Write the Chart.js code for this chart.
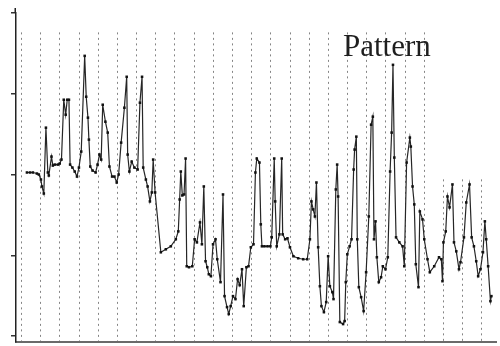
<!DOCTYPE html>
<html>
<head>
<meta charset="utf-8">
<style>
  html, body { margin: 0; padding: 0; background: #fff; }
  #wrap { width: 500px; height: 346px; }
</style>
<script src="https://cdn.jsdelivr.net/npm/chart.js@4/dist/chart.umd.min.js"></script>
</head>
<body>
<div id="wrap"><canvas id="c" width="500" height="346"></canvas></div>
<script>
// Sample positions (time units, one grid column = 10 units)
const sampleX = [
  3.1, 4.7, 6.2, 8.3, 9.3, 10.4, 10.9, 11.9, 13.0, 14.0,
  14.5, 15.9, 16.6, 17.6, 19.2, 20.2, 21.1, 22.3, 23.3, 24.1,
  25.0, 25.6, 26.8, 28.0, 29.2, 30.2, 31.4, 33.2, 34.0, 34.9,
  35.4, 36.1, 37.3, 38.9, 39.9, 40.9, 41.8, 42.6, 44.0, 45.2,
  46.1, 47.5, 48.7, 49.9, 50.9, 52.2, 53.9, 55.1, 55.6, 56.5,
  57.7, 59.1, 60.8, 62.0, 63.1, 63.7, 65.1, 66.0, 67.2, 68.2,
  68.9, 69.9, 72.9, 75.5, 78.1, 80.7, 82.0, 82.7, 83.3, 84.1,
  85.0, 85.8, 86.4, 87.6, 89.3, 90.5, 91.7, 93.3, 94.3, 95.3,
  96.2, 97.1, 97.9, 99.0, 100.1, 101.4, 102.3, 104.0, 105.3, 106.1,
  107.4, 108.3, 109.3, 110.5, 111.8, 112.9, 114.0, 115.2, 116.1, 117.5,
  118.6, 119.8, 121.2, 122.2, 122.9, 124.3, 125.0, 125.6, 126.9, 128.5,
  130.0, 130.7, 132.0, 132.5, 133.3, 134.7, 135.9, 136.4, 137.7, 138.9,
  140.2, 142.0, 144.5, 147.1, 149.2, 150.6, 151.4, 152.3, 153.2, 154.0,
  154.9, 155.8, 156.6, 157.9, 159.1, 160.1, 161.0, 162.3, 162.9, 164.1,
  164.8, 165.3, 166.2, 167.9, 168.7, 169.3, 170.1, 171.3, 172.3, 173.4,
  173.9, 174.8, 175.3, 176.1, 177.3, 178.6, 179.9, 181.3, 182.5, 183.4,
  184.0, 184.8, 185.5, 186.5, 187.7, 188.6, 190.0, 191.2, 192.4, 193.2,
  193.9, 194.6, 195.5, 197.2, 198.9, 199.8, 201.0, 202.7, 203.2, 204.1,
  205.0, 205.8, 207.2, 207.9, 209.3, 210.2, 211.9, 213.1, 215.4, 217.9,
  219.1, 219.7, 220.2, 221.4, 222.3, 223.4, 224.9, 225.7, 226.9, 228.3,
  229.1, 230.9, 232.1, 233.8, 234.9, 236.1, 237.3, 238.3, 239.5, 240.8,
  241.8, 242.5, 243.5, 244.7, 245.2
];

// Pattern level at each sample
const patternLevel = [
  202.5, 202.5, 202.5, 201.2, 200.0, 193.8, 185.2, 176.5, 258.0, 202.5,
  198.8, 222.2, 211.1, 212.3, 212.3, 213.6, 218.5, 292.6, 274.1, 292.6,
  292.6, 212.3, 208.6, 203.7, 197.5, 208.6, 228.4, 346.9, 296.3, 270.4,
  243.2, 209.9, 204.9, 202.5, 212.3, 224.7, 218.5, 286.4, 265.4, 251.9,
  209.9, 197.5, 197.5, 190.1, 200.0, 239.5, 282.7, 321.0, 224.7, 203.7,
  216.0, 208.6, 206.2, 288.9, 321.0, 208.6, 193.8, 185.2, 166.7, 177.8,
  218.5, 177.8, 103.7, 107.4, 111.1, 119.8, 129.6, 169.1, 203.7, 174.1,
  175.3, 219.8, 86.4, 85.2, 86.4, 119.8, 116.0, 140.7, 113.6, 185.2,
  92.6, 85.2, 76.5, 74.1, 113.6, 119.8, 95.1, 66.7, 175.3, 49.4,
  35.8, 27.2, 37.0, 49.4, 45.7, 70.4, 63.0, 82.7, 37.0, 85.2,
  86.4, 109.9, 113.6, 202.5, 219.8, 214.8, 138.3, 111.1, 111.1, 111.1,
  111.1, 122.2, 219.8, 166.7, 111.1, 125.9, 219.8, 125.9, 119.8, 121.0,
  109.9, 98.8, 96.3, 95.1, 95.1, 119.8, 166.7, 156.8, 148.1, 190.1,
  109.9, 61.7, 37.0, 29.6, 42.0, 98.8, 61.7, 54.3, 45.7, 181.5,
  212.3, 172.8, 17.3, 14.8, 18.5, 66.7, 101.2, 111.1, 119.8, 206.2,
  230.9, 246.9, 119.8, 60.5, 48.1, 30.9, 79.0, 148.1, 261.7, 271.6,
  119.8, 142.0, 97.5, 66.7, 72.8, 86.4, 82.7, 97.5, 203.7, 251.9,
  335.8, 221.0, 122.2, 116.0, 111.1, 86.4, 214.8, 245.7, 234.6, 185.2,
  163.0, 88.9, 60.5, 154.3, 144.4, 119.8, 95.1, 79.0, 86.4, 97.5,
  95.1, 67.9, 116.0, 129.6, 172.8, 159.3, 187.7, 116.0, 104.9, 82.7,
  91.4, 122.2, 165.4, 187.7, 122.2, 111.1, 92.6, 74.1, 82.7, 103.7,
  142.0, 119.8, 86.4, 43.2, 49.4
];

// Axis tick values and grid columns
const yTickValues = [0, 100, 200, 300, 400];
const gridColumns = [0, 10, 20, 30, 40, 50, 60, 70, 80, 90, 100, 110, 120,
                     130, 140, 150, 160, 170, 180, 190, 200, 210, 220, 230, 240];
const gridTopLevel = 376;       // where the dotted columns begin
const gridTopLevelRight = 194;  // shorter columns at the right edge
const tallColumnLimit = 210;    // last column that runs to the top

const points = sampleX.map((x, i) => ({ x: x, y: patternLevel[i] }));

// Dotted vertical guides drawn behind the series
const dottedColumns = {
  id: 'dottedColumns',
  beforeDatasetsDraw(chart) {
    const { ctx, chartArea, scales: { x, y } } = chart;
    ctx.save();
    ctx.strokeStyle = '#858585';
    ctx.lineWidth = 1;
    ctx.setLineDash([2, 3.5]);
    gridColumns.forEach(v => {
      const px = Math.round(x.getPixelForValue(v)) + 0.5;
      const top = y.getPixelForValue(v <= tallColumnLimit ? gridTopLevel : gridTopLevelRight);
      ctx.beginPath();
      ctx.moveTo(px, top);
      ctx.lineTo(px, chartArea.bottom - 1);
      ctx.stroke();
    });
    ctx.restore();
  }
};

// Caption in the upper right, plus the short stub of the vertical axis above its top tick
const caption = {
  id: 'caption',
  afterDraw(chart) {
    const { ctx, chartArea, scales: { x, y } } = chart;
    ctx.save();
    ctx.strokeStyle = '#222';
    ctx.lineWidth = 1.5;
    ctx.beginPath();
    ctx.moveTo(chartArea.left - 0.75, chartArea.top - 5);
    ctx.lineTo(chartArea.left - 0.75, chartArea.top);
    ctx.stroke();
    ctx.font = '31px "Liberation Serif", "DejaVu Serif", serif';
    ctx.fillStyle = '#1e1e1e';
    ctx.textBaseline = 'alphabetic';
    ctx.fillText('Pattern', x.getPixelForValue(167.8), y.getPixelForValue(347));
    ctx.restore();
  }
};

new Chart(document.getElementById('c'), {
  type: 'scatter',
  data: {
    datasets: [{
      data: points,
      showLine: true,
      borderColor: '#262626',
      borderWidth: 1.2,
      tension: 0,
      pointStyle: 'rect',
      pointRadius: 1.8,
      pointBackgroundColor: '#111',
      pointBorderColor: '#111',
      pointBorderWidth: 0
    }]
  },
  options: {
    responsive: false,
    animation: false,
    events: [],
    layout: { padding: { top: 13, right: 1, left: 0, bottom: 0 } },
    plugins: { legend: { display: false }, tooltip: { enabled: false } },
    scales: {
      x: {
        type: 'linear',
        min: -2.6,
        max: 247.6,
        grid: { display: false },
        ticks: { display: false },
        border: { color: '#6a6a6a', width: 2 },
        afterFit(scale) { scale.height = 3; }
      },
      y: {
        type: 'linear',
        min: -7.4,
        max: 400,
        afterBuildTicks(scale) { scale.ticks = yTickValues.map(v => ({ value: v })); },
        ticks: { display: false },
        grid: { drawOnChartArea: false, drawTicks: true, tickLength: 5, color: '#333', lineWidth: 1.5 },
        border: { color: '#222', width: 1.5 },
        afterFit(scale) { scale.width = 16; }
      }
    }
  },
  plugins: [dottedColumns, caption]
});
</script>
</body>
</html>
